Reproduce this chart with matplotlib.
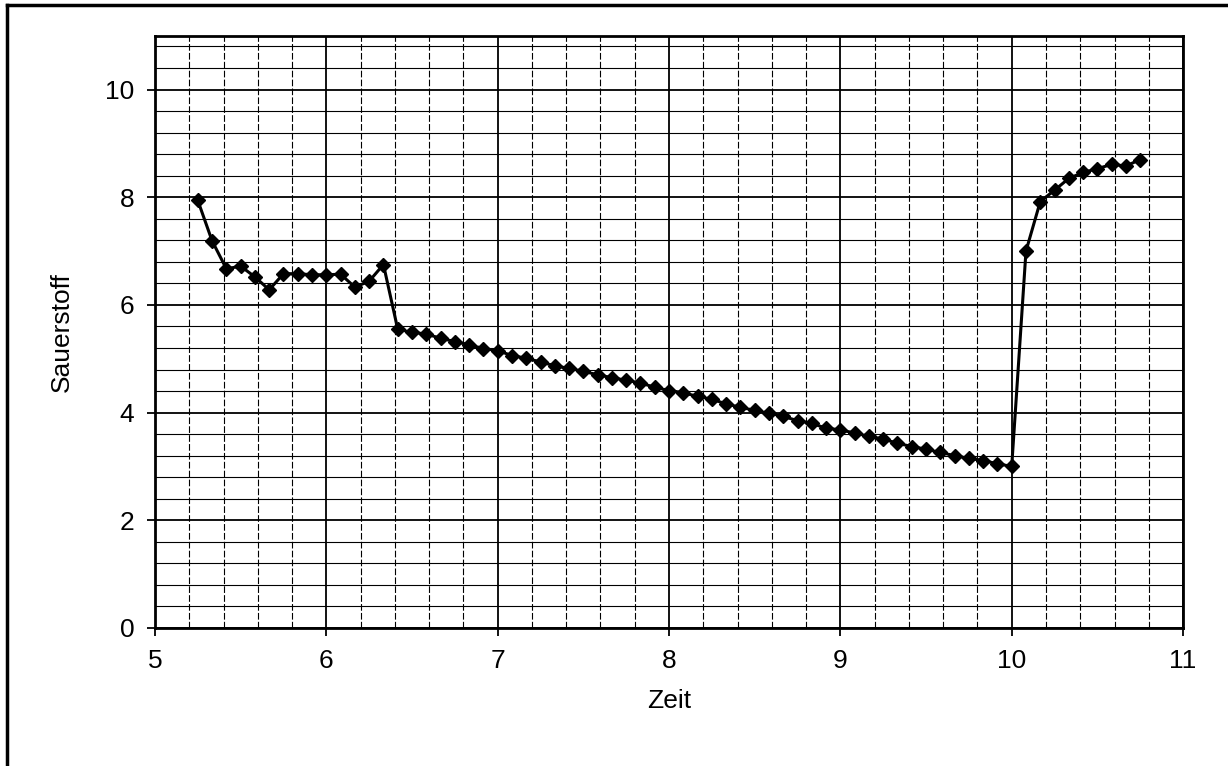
import matplotlib.pyplot as plt
from matplotlib.lines import Line2D
from matplotlib.ticker import MultipleLocator

plt.rcParams['font.family'] = ['Liberation Sans', 'DejaVu Sans']

# Messzeitpunkte (alle 5 Minuten), als Uhrzeit
zeit_labels = [
    "5:15", "5:20", "5:25", "5:30", "5:35", "5:40", "5:45", "5:50", "5:55",
    "6:00", "6:05", "6:10", "6:15", "6:20", "6:25", "6:30", "6:35", "6:40",
    "6:45", "6:50", "6:55", "7:00", "7:05", "7:10", "7:15", "7:20", "7:25",
    "7:30", "7:35", "7:40", "7:45", "7:50", "7:55", "8:00", "8:05", "8:10",
    "8:15", "8:20", "8:25", "8:30", "8:35", "8:40", "8:45", "8:50", "8:55",
    "9:00", "9:05", "9:10", "9:15", "9:20", "9:25", "9:30", "9:35", "9:40",
    "9:45", "9:50", "9:55", "10:00", "10:05", "10:10", "10:15", "10:20",
    "10:25", "10:30", "10:35", "10:40", "10:45",
]

sauerstoff = [
    7.94, 7.19, 6.67, 6.72, 6.52, 6.28, 6.58, 6.58, 6.56, 6.56, 6.57, 6.33,
    6.44, 6.75,
    5.55, 5.49, 5.46, 5.38, 5.32, 5.26, 5.19, 5.15, 5.06, 5.01, 4.94, 4.87,
    4.82, 4.77, 4.70, 4.65, 4.60, 4.55, 4.47, 4.41, 4.37, 4.30, 4.25, 4.16,
    4.10, 4.04, 3.99, 3.93, 3.85, 3.80, 3.71, 3.68, 3.62, 3.56, 3.51, 3.43,
    3.37, 3.32, 3.26, 3.20, 3.15, 3.11, 3.05, 3.00,
    7.00, 7.92, 8.13, 8.35, 8.46, 8.53, 8.61, 8.58, 8.70,
]

# Uhrzeit -> Stunden als Dezimalzahl
zeit = [int(t.split(":")[0]) + int(t.split(":")[1]) / 60 for t in zeit_labels]

fig = plt.figure(figsize=(12.28, 7.66), dpi=100)
ax = fig.add_axes([0.1262, 0.1802, 0.8372, 0.7732])

ax.set_xlim(5, 11)
ax.set_ylim(0, 11)
ax.xaxis.set_major_locator(MultipleLocator(1))
ax.xaxis.set_minor_locator(MultipleLocator(0.2))
ax.yaxis.set_major_locator(MultipleLocator(2))
ax.yaxis.set_minor_locator(MultipleLocator(0.4))

ax.grid(which='major', color='black', linewidth=1.3)
ax.grid(which='minor', axis='y', color='black', linewidth=0.8)
ax.grid(which='minor', axis='x', color='black', linewidth=0.8, linestyle=(0, (6, 2)))
ax.set_axisbelow(True)

ax.plot(zeit, sauerstoff, color='black', linewidth=2.2, marker='D',
        markersize=7, zorder=3)

for s in ax.spines.values():
    s.set_linewidth(2)

ax.tick_params(which='major', direction='out', length=6, width=1.3,
               labelsize=19, pad=9, color='black')
ax.tick_params(which='minor', length=0)

ax.set_xlabel('Zeit', fontsize=19, labelpad=12)
ax.set_ylabel('Sauerstoff', fontsize=19, labelpad=22)

# Rahmen des Diagrammbereichs (links und oben sichtbar)
fig.add_artist(Line2D([0.0057, 0.0057], [0, 0.9935], color='black',
                      linewidth=2.5, transform=fig.transFigure))
fig.add_artist(Line2D([0.0057, 1], [0.9935, 0.9935], color='black',
                      linewidth=2.5, transform=fig.transFigure))

plt.savefig('out.png', dpi=100)
